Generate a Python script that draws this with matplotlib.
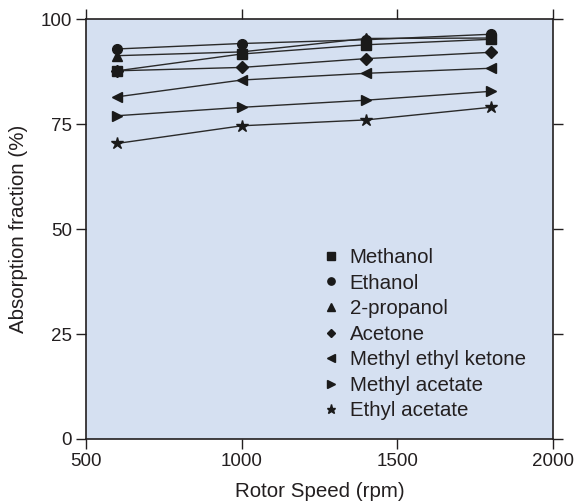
import matplotlib
matplotlib.use("Agg")
import matplotlib.pyplot as plt

plt.rcParams["font.family"] = ["Liberation Sans", "DejaVu Sans"]

rotor_speed = [600, 1000, 1400, 1800]

solvents = ["Methanol", "Ethanol", "2-propanol", "Acetone",
            "Methyl ethyl ketone", "Methyl acetate", "Ethyl acetate"]
markers = ["s", "o", "^", "D", "<", ">", "*"]

methanol = [87.7, 91.7, 93.9, 95.2]
ethanol = [92.9, 94.2, 95.1, 96.4]
propanol = [91.3, 92.2, 95.4, 95.5]
acetone = [87.7, 88.5, 90.6, 92.1]
mek = [81.5, 85.5, 87.1, 88.3]
methyl_acetate = [77.0, 79.0, 80.7, 82.8]
ethyl_acetate = [70.4, 74.6, 76.0, 79.0]

series = [methanol, ethanol, propanol, acetone, mek, methyl_acetate, ethyl_acetate]

text_color = "#231f20"

fig = plt.figure(figsize=(5.74, 5.04), dpi=100)
ax = fig.add_axes([0.150, 0.129, 0.813, 0.833])
ax.set_facecolor("#d5e0f1")

for name, marker, values in zip(solvents, markers, series):
    ms = 9 if marker == "*" else 7
    if marker == "D":
        ms = 6
    ax.plot(rotor_speed, values, color="#2a2a2a", linewidth=1.0, zorder=2)
    ax.plot(rotor_speed, values, linestyle="none", marker=marker, markersize=ms,
            color="#1a1a1a", zorder=3, label=name)

ax.set_xlim(500, 2000)
ax.set_ylim(0, 100)
ax.set_xticks([500, 1000, 1500, 2000])
ax.set_yticks([0, 25, 50, 75, 100])
ax.tick_params(direction="out", length=7, width=1, labelsize=13.5,
               colors=text_color, top=True, right=True, pad=3)
for s in ax.spines.values():
    s.set_color(text_color)
    s.set_linewidth(1.2)

ax.set_xlabel("Rotor Speed (rpm)", fontsize=14.8, color=text_color, labelpad=9)
ax.set_ylabel("Absorption fraction (%)", fontsize=14.8, color=text_color, labelpad=9)

leg = ax.legend(loc="lower left", bbox_to_anchor=(0.47, 0.0), frameon=False,
                fontsize=14.8, handlelength=0.7, handletextpad=0.55,
                labelspacing=0.32, markerscale=0.75)
for t in leg.get_texts():
    t.set_color(text_color)

fig.savefig("out.png", dpi=100)
